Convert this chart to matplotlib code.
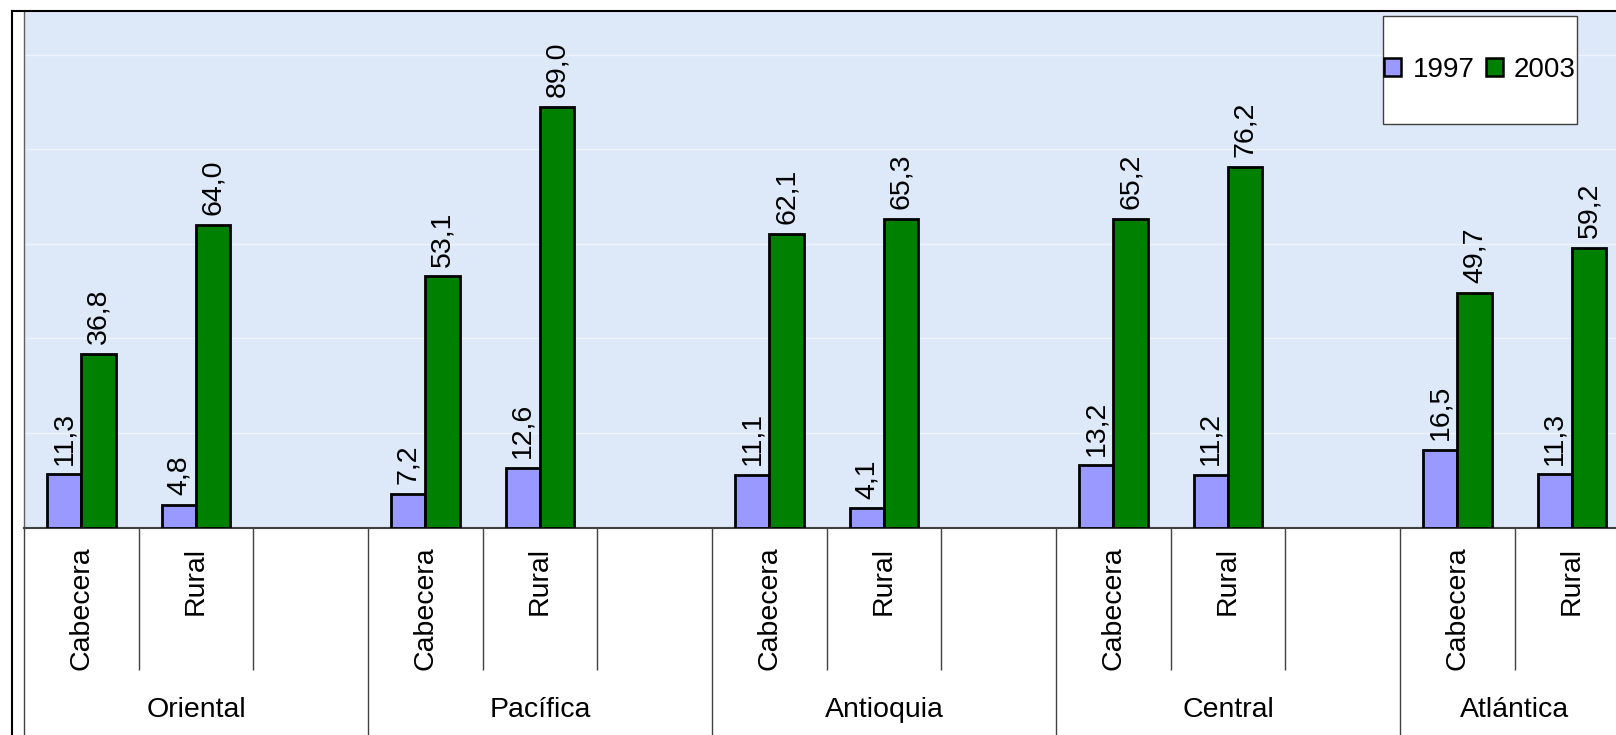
import matplotlib.pyplot as plt
from matplotlib.patches import Patch, Rectangle
from matplotlib.lines import Line2D

plt.rcParams['font.family'] = ['Liberation Sans', 'DejaVu Sans']

# datos por región: (Cabecera, Rural)
regiones = ['Oriental', 'Pacífica', 'Antioquia', 'Central', 'Atlántica']
zonas = ['Cabecera', 'Rural']
v1997 = [[11.3, 4.8], [7.2, 12.6], [11.1, 4.1], [13.2, 11.2], [16.5, 11.3]]
v2003 = [[36.8, 64.0], [53.1, 89.0], [62.1, 65.3], [65.2, 76.2], [49.7, 59.2]]
series = ['1997', '2003']
colores = ['#9999FF', '#008000']

W, H = 1616, 735
fig = plt.figure(figsize=(W / 100, H / 100), dpi=100)
slot = 114.67
n_slots = 14
ax = fig.add_axes([24 / W, 1 - 527.7 / H, n_slots * slot / W, (527.7 - 11) / H])

# posiciones: 3 casillas por región (la última sin casilla vacía)
pos, inicio = [], []
for g, reg in enumerate(regiones):
    x0 = g * 3
    inicio.append(x0 - 0.5)
    pos.append([x0 + i for i in range(len(zonas))])
ancho = 0.3
fs = 20.5

for g in range(len(regiones)):
    for i in range(len(zonas)):
        x = pos[g][i]
        for s, vals in enumerate([v1997, v2003]):
            xb = x - ancho / 2 + s * ancho
            val = vals[g][i]
            ax.bar(xb, val, width=ancho, color=colores[s], edgecolor='black',
                   linewidth=2, zorder=3)
            ax.annotate(f'{val:.1f}'.replace('.', ','), (xb, val),
                        xytext=(0, 7), textcoords='offset points',
                        rotation=90, ha='center', va='bottom', fontsize=fs)
        ax.text(x, -0.037, zonas[i], transform=ax.get_xaxis_transform(),
                rotation=90, ha='center', va='top', fontsize=fs)
    fin = inicio[g + 1] if g + 1 < len(regiones) else n_slots - 0.5
    ax.text((inicio[g] + fin) / 2, -0.353, regiones[g],
            transform=ax.get_xaxis_transform(), ha='center', va='center', fontsize=fs)

ax.set_xlim(-0.5, n_slots - 0.5)
ax.set_ylim(0, 109.2)
ax.set_facecolor('#DDE8F8')
ax.set_yticks([20, 40, 60, 80, 100])
ax.yaxis.grid(True, color='white', linewidth=1, alpha=0.55)
ax.set_axisbelow(True)
ax.tick_params(axis='y', length=0, labelleft=False)

# separadores del eje de categorías
ax.set_xticks(inicio)
menores = [p + 0.5 for grupo in pos for p in grupo]
menores = [m for m in menores if m not in inicio and m < n_slots - 0.5]
ax.set_xticks(menores, minor=True)
ax.tick_params(axis='x', which='major', length=207 * 0.72, width=1, color='#404040',
               labelbottom=False)
ax.tick_params(axis='x', which='minor', length=142 * 0.72, width=1, color='#404040')
for lado in ['top', 'right']:
    ax.spines[lado].set_visible(False)
ax.spines['bottom'].set_color('#404040')
ax.spines['bottom'].set_linewidth(1.5)
ax.spines['left'].set_color('#606060')
ax.spines['left'].set_linewidth(1)

# marco exterior del gráfico
fig.add_artist(Line2D([12 / W, 12 / W], [0, 1 - 11 / H], color='black', lw=1.5))
fig.add_artist(Line2D([12 / W, 1], [1 - 11 / H, 1 - 11 / H], color='black', lw=1.5))

# leyenda
fig.add_artist(Rectangle((1383 / W, 1 - 124 / H), 194 / W, 108 / H,
                         transform=fig.transFigure, facecolor='white',
                         edgecolor='#404040', lw=1, zorder=4))
handles = [Patch(facecolor=c, edgecolor='black', linewidth=1.8) for c in colores]
leg = fig.legend(handles, series, loc='center', bbox_to_anchor=(1480 / W, 1 - 70 / H),
                 ncol=2, frameon=False, fontsize=20, handlelength=0.62,
                 handleheight=0.62, handletextpad=0.4, columnspacing=0.4)
leg.set_zorder(6)

fig.savefig('out.png', dpi=100)
